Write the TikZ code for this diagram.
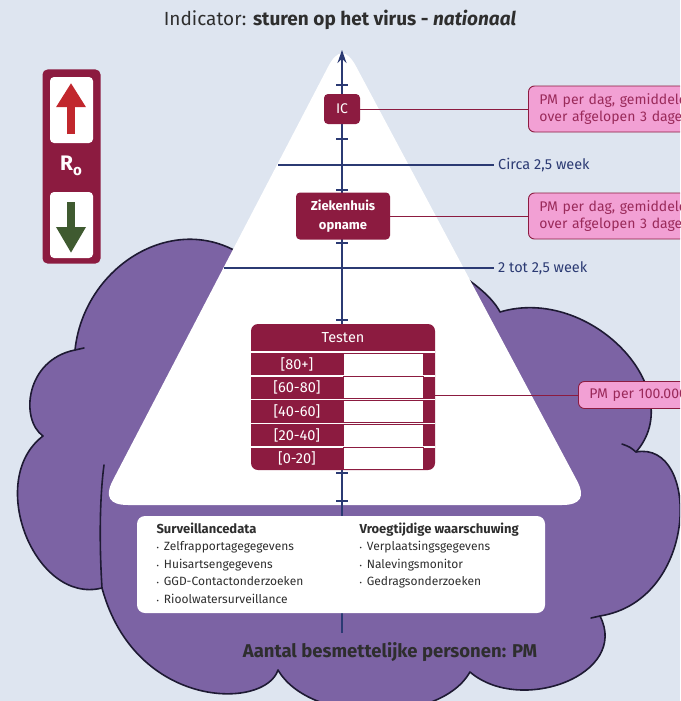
\documentclass[tikz,border=0pt]{standalone}
\usepackage{fontspec}
\setmainfont{Fira Sans}
\usetikzlibrary{arrows.meta}

\definecolor{bgblue}{HTML}{DEE5F0}
\definecolor{cloudpurple}{HTML}{7C63A4}
\definecolor{cloudline}{HTML}{1E1A33}
\definecolor{maroon}{HTML}{8C1B40}
\definecolor{pinkbox}{HTML}{F2A0D4}
\definecolor{pinktext}{HTML}{9A2A5A}
\definecolor{navy}{HTML}{2B3A73}
\definecolor{uprood}{HTML}{C1272D}
\definecolor{downgroen}{HTML}{3F5A30}
\definecolor{darktext}{HTML}{2E2E2E}

\newcommand{\fsz}[2]{\fontsize{#1}{#2}\selectfont}
\newcommand{\itm}{\scalebox{0.6}{\textbullet}\hspace{5pt}}

\begin{document}
\begin{tikzpicture}[x=1pt,y=-1pt,
    darkbox/.style={fill=maroon, rounded corners=4pt, text=white, inner sep=0pt},
    pmbox/.style={fill=pinkbox, draw=maroon, line width=0.9pt, rounded corners=6pt,
        text=pinktext, anchor=west, align=left, text width=190pt, inner xsep=11pt,
        inner ysep=0pt, minimum height=46pt, font=\fsz{14}{17}},
    conn/.style={maroon, line width=0.9pt},
    axisline/.style={navy, line width=1.4pt},
    weekline/.style={navy, line width=1.3pt},
    weeklabel/.style={text=navy, anchor=west, inner xsep=4pt, font=\fsz{14.5}{16}},
    rowlabel/.style={text=white, font=\fsz{14.5}{16}},
    datatext/.style={text=darktext, anchor=north west, align=left, font=\fsz{12}{17.5}},
    cloudedge/.style={cloudline, line width=1.6pt, line cap=round}]

    \useasboundingbox (0,0) rectangle (680,701);
    \clip (0,0) rectangle (680,701);
    \fill[bgblue] (0,0) rectangle (680,701);

    % Title
    \node[text=darktext, font=\fsz{19}{22}] (title) at (340,20)
        {Indicator: \textbf{sturen op het virus - \textit{nationaal}}};

    % Cloud behind the pyramid
    \filldraw[fill=cloudpurple, draw=cloudline, line width=1.6pt, line join=round]
        (75,350) .. controls (85,255) and (200,195) .. (270,280)
        .. controls (290,180) and (475,262) .. (500,312)
        .. controls (590,285) and (690,390) .. (636,452)
        .. controls (700,440) and (700,600) .. (600,616)
        .. controls (630,675) and (520,715) .. (470,672)
        .. controls (440,725) and (310,725) .. (278,670)
        .. controls (265,710) and (135,710) .. (102,588)
        .. controls (35,605) and (-15,480) .. (43,436)
        .. controls (20,420) and (25,360) .. (75,350) -- cycle;
    \draw[cloudedge] (102,588) .. controls (99,540) and (100,495) .. (104,465);
    \draw[cloudedge] (636,452) .. controls (630,447) .. (622,444);
    \draw[cloudedge] (600,616) -- (591,618);
    \draw[cloudedge] (75,350) -- (84,348);

    % Pyramid, corners rounded by hand
    \fill[white] (128,505) -- (562,505) .. controls (580.7,505) and (585.6,496.8) .. (576.8,480.3)
        -- (356.1,66.5) .. controls (346.7,48.8) and (337.4,48.9) .. (328.2,66.6)
        -- (112.9,480.2) .. controls (104.3,496.7) and (109.3,505) .. (128,505) -- cycle;

    % Week lines
    \coordinate (w1) at (278,165);
    \coordinate (w2) at (224,268);
    \node[weeklabel] (circa) at (494,165) {Circa 2,5 week};
    \node[weeklabel] (tot) at (494,268) {2 tot 2,5 week};
    \draw[weekline] (w1) -- (circa.west);
    \draw[weekline] (w2) -- (tot.west);

    % Vertical axis with ticks
    \coordinate (axbot) at (342,633);
    \coordinate (axtop) at (342,50);
    \draw[axisline, -{Stealth[length=13pt,width=9pt]}] (axbot) -- (axtop);
    \foreach \ty in {85,139,190,243,320,473,501} {
        \draw[axisline] (336,\ty) -- (348,\ty);
    }

    % IC and hospital admission
    \node[darkbox, minimum width=36pt, minimum height=30pt, font=\fsz{14}{15}] (ic) at (342,109) {IC};
    \node[darkbox, minimum width=94pt, minimum height=47pt, align=center,
        font=\bfseries\fsz{13}{19}] (zkh) at (343,216) {Ziekenhuis\\opname};

    % PM boxes (cut off at the right edge)
    \node[pmbox] (pm1) at (528,109) {PM per dag, gemiddeld\\over afgelopen 3 dagen};
    \node[pmbox] (pm2) at (528,216) {PM per dag, gemiddeld\\over afgelopen 3 dagen};
    \node[pmbox, minimum height=27pt] (pm3) at (578,395) {PM per 100.000};
    \draw[conn] (ic) -- (pm1);
    \draw[conn] (zkh) -- (pm2);

    % Testen table
    \node[darkbox, rounded corners=7pt, minimum width=184pt, minimum height=146pt] (tab) at (343,397) {};
    \node[rowlabel] (testen) at (343,338) {Testen};
    \foreach \lab [count=\i] in {{[80+]},{[60-80]},{[40-60]},{[20-40]},{[0-20]}} {
        \pgfmathsetmacro{\rtop}{353+23.7*(\i-1)}
        \draw[white, line width=1.6pt] (251,\rtop-0.8) -- (435,\rtop-0.8);
        \draw[fill=white, draw=maroon, line width=0.8pt] (343,\rtop) rectangle (423,\rtop+22);
        \node[rowlabel] (row\i) at (297,\rtop+11) {\lab};
    }
    \draw[conn] (tab.east |- pm3.west) -- (pm3);

    % Data sources
    \node[fill=white, rounded corners=8pt, minimum width=408pt, minimum height=97pt] (data) at (341,564.5) {};
    \node[datatext] (surv) at (153,519) {{\bfseries\fsz{13}{17.5}Surveillancedata}\\
        \itm Zelfrapportagegegevens\\ \itm Huisartsengegevens\\
        \itm GGD-Contactonderzoeken\\ \itm Rioolwatersurveillance};
    \node[datatext] (vroeg) at (356,519) {{\bfseries\fsz{13}{17.5}Vroegtijdige waarschuwing}\\
        \itm Verplaatsingsgegevens\\ \itm Nalevingsmonitor\\ \itm Gedragsonderzoeken};

    \node[text=darktext, font=\bfseries\fsz{18.5}{21}] (aantal) at (390,652) {Aantal besmettelijke personen: PM};

    % R0 indicator
    \node[fill=maroon, rounded corners=5pt, minimum width=58pt, minimum height=194pt, inner sep=0pt] (r0box) at (71.5,166.5) {};
    \node[fill=white, rounded corners=4pt, minimum width=43pt, minimum height=66pt, inner sep=0pt] (upbox) at (71.5,110) {};
    \node[fill=white, rounded corners=4pt, minimum width=43pt, minimum height=66pt, inner sep=0pt] (downbox) at (71.5,225) {};
    \draw[uprood, line width=8.3pt, -{Triangle[length=24pt,width=28pt]}] (71,134) -- (71,83);
    \draw[downgroen, line width=8.3pt, -{Triangle[length=26pt,width=28pt]}] (71,202) -- (71,253);
    \node[text=white, font=\bfseries\fsz{21}{24}] (rnul) at (71,166) {R\raisebox{-5pt}{\fsz{15}{15}o}};

\end{tikzpicture}
\end{document}
